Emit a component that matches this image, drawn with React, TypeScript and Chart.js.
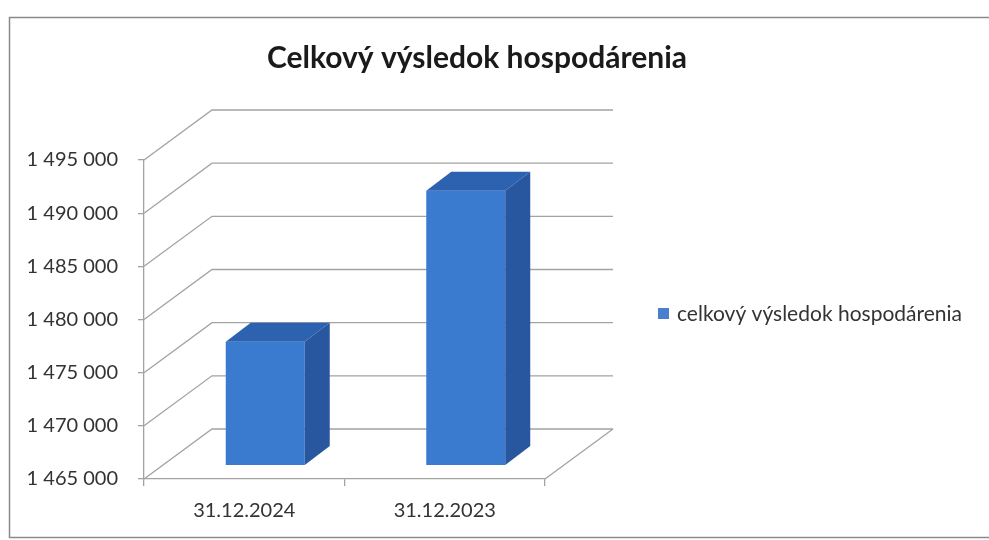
import React, { useEffect, useRef } from "react";
import { Chart, registerables } from "chart.js";

Chart.register(...registerables);

const categories = ["31.12.2024", "31.12.2023"];
const seriesName = "celkový výsledok hospodárenia";
const seriesValues = [1476600, 1490800];
const chartTitle = "Celkový výsledok hospodárenia";
const yMin = 1465000;
const yMax = 1495000;
const yStep = 5000;

const FONT = "Lato, 'Open Sans', sans-serif";
const WALL_DX = 68;
const WALL_DY = -50;
const BAR_DX = 21;
const BAR_DY = -14;
const DEPTH_DX = 25;
const DEPTH_DY = -19;
const GRID = "#a3a3a3";
const FRONT = "#3a7bd0";
const SIDE = "#28579f";
const TOP = "#2d62b0";

const fmt = (v: number) => String(v).replace(/\B(?=(\d{3})+(?!\d))/g, " ");

const excel3d = {
  id: "excel3d",
  beforeDraw(chart: any) {
    const { ctx, width, height } = chart;
    ctx.save();
    ctx.fillStyle = "#ffffff";
    ctx.fillRect(0, 0, width, height);
    ctx.strokeStyle = "#8a8a8a";
    ctx.lineWidth = 1.5;
    ctx.strokeRect(9.5, 17.5, 990, 520);
    // title
    ctx.fillStyle = "#1a1a1a";
    ctx.font = `bold 30px ${FONT}`;
    ctx.textAlign = "center";
    ctx.textBaseline = "middle";
    ctx.fillText(chartTitle, 477, 58);
    // legend
    ctx.fillStyle = "#4a7fcd";
    ctx.fillRect(658, 308, 11, 11);
    ctx.fillStyle = "#333333";
    ctx.font = `21px ${FONT}`;
    ctx.textAlign = "left";
    ctx.fillText(seriesName, 677, 314);
    ctx.restore();
  },
  beforeDatasetsDraw(chart: any) {
    const { ctx, chartArea, scales } = chart;
    const y = scales.y;
    const { left, right, bottom } = chartArea;
    ctx.save();
    ctx.strokeStyle = GRID;
    ctx.lineWidth = 1.3;
    ctx.beginPath();
    for (let v = yMin; v <= yMax; v += yStep) {
      const py = y.getPixelForValue(v);
      ctx.moveTo(left, py);
      ctx.lineTo(left + WALL_DX, py + WALL_DY);
      ctx.lineTo(right + WALL_DX, py + WALL_DY);
    }
    ctx.moveTo(right, bottom);
    ctx.lineTo(right + WALL_DX, bottom + WALL_DY);
    ctx.stroke();
    ctx.restore();
    ctx.save();
    ctx.translate(BAR_DX, BAR_DY);
  },
  afterDatasetsDraw(chart: any) {
    const { ctx, chartArea } = chart;
    const meta = chart.getDatasetMeta(0);
    meta.data.forEach((bar: any) => {
      const { x, y, width } = bar.getProps(["x", "y", "width"], true);
      const base = chartArea.bottom;
      const l = x - width / 2;
      const r = x + width / 2;
      // top face
      ctx.fillStyle = TOP;
      ctx.beginPath();
      ctx.moveTo(l, y);
      ctx.lineTo(l + DEPTH_DX, y + DEPTH_DY);
      ctx.lineTo(r + DEPTH_DX, y + DEPTH_DY);
      ctx.lineTo(r, y);
      ctx.closePath();
      ctx.fill();
      // side face
      ctx.fillStyle = SIDE;
      ctx.beginPath();
      ctx.moveTo(r, y);
      ctx.lineTo(r + DEPTH_DX, y + DEPTH_DY);
      ctx.lineTo(r + DEPTH_DX, base + DEPTH_DY);
      ctx.lineTo(r, base);
      ctx.closePath();
      ctx.fill();
    });
    ctx.restore();
  },
};

export default function App() {
  const ref = useRef<HTMLCanvasElement | null>(null);
  useEffect(() => {
    if (!ref.current) return;
    const chart = new Chart(ref.current, {
      type: "bar",
      data: {
        labels: categories,
        datasets: [
          {
            label: seriesName,
            data: seriesValues,
            backgroundColor: FRONT,
            borderWidth: 0,
            barPercentage: 0.394,
            categoryPercentage: 1,
          },
        ],
      },
      options: {
        responsive: false,
        animation: false,
        devicePixelRatio: 1,
        layout: { padding: { left: 0, right: 444, top: 160, bottom: 0 } },
        plugins: {
          legend: { display: false },
          title: { display: false },
          tooltip: { enabled: false },
        },
        scales: {
          x: {
            grid: { display: true, drawOnChartArea: false, drawTicks: true, tickLength: 7, color: GRID, lineWidth: 1.3 },
            border: { display: true, color: GRID, width: 1.3 },
            ticks: { color: "#333333", font: { family: FONT, size: 20 }, padding: 13 },
            afterFit: (s: any) => { s.height = 61; },
          },
          y: {
            min: yMin,
            max: yMax,
            grid: { display: true, drawOnChartArea: false, drawTicks: true, tickLength: 6, color: GRID, lineWidth: 1.3 },
            border: { display: true, color: GRID, width: 1.3 },
            ticks: {
              stepSize: yStep,
              color: "#333333",
              font: { family: FONT, size: 20 },
              padding: 20,
              callback: (v: any) => fmt(Number(v)),
            },
            afterFit: (s: any) => { s.width = 144; },
          },
        },
      },
      plugins: [excel3d],
    });
    return () => chart.destroy();
  }, []);
  return (
    <div style={{ position: "fixed", left: 0, top: 0, width: 989, height: 540, background: "#fff" }}>
      <canvas ref={ref} width={989} height={540} style={{ width: 989, height: 540 }} />
    </div>
  );
}
